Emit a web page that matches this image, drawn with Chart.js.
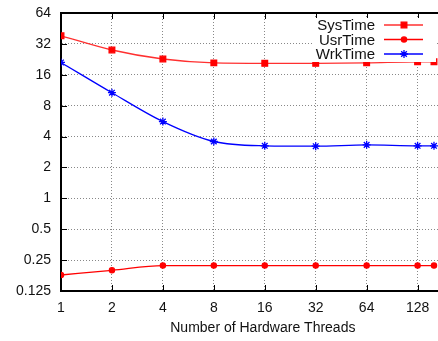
<!DOCTYPE html>
<html>
<head>
<meta charset="utf-8">
<script src="https://cdn.jsdelivr.net/npm/chart.js@4"></script>
<style>
html,body{margin:0;padding:0;background:#fff;overflow:hidden;}
#wrap{width:438px;height:341px;position:relative;overflow:hidden;}
</style>
</head>
<body>
<div id="wrap"><canvas id="c" width="470" height="341"></canvas></div>
<script>
const threads = [1, 2, 4, 8, 16, 32, 64, 128, 160];
const sysTime = [38.4, 27.9, 22.8, 20.9, 20.7, 20.7, 20.9, 21.4, 21.4];
const usrTime = [0.179, 0.199, 0.221, 0.221, 0.221, 0.221, 0.221, 0.221, 0.221];
const wrkTime = [21.1, 10.7, 5.6, 3.58, 3.25, 3.22, 3.32, 3.25, 3.25];
const xTicks = [1, 2, 4, 8, 16, 32, 64, 128];
const yTicks = [0.125, 0.25, 0.5, 1, 2, 4, 8, 16, 32, 64];
const seriesNames = ['SysTime', 'UsrTime', 'WrkTime'];

const pts = arr => threads.map((t, i) => ({x: t, y: arr[i]}));
const FONT = 'Liberation Sans, Arial, sans-serif';

const frame = {
  id: 'frame',
  beforeDatasetsDraw(chart) {
    const {ctx, chartArea: a, scales} = chart;
    ctx.save();
    ctx.strokeStyle = '#000';
    ctx.lineWidth = 1;
    ctx.beginPath();
    xTicks.forEach(v => {
      const px = Math.round(scales.x.getPixelForValue(v)) + 0.5;
      ctx.moveTo(px, a.bottom); ctx.lineTo(px, a.bottom - 6);
      ctx.moveTo(px, a.top); ctx.lineTo(px, a.top + 6);
    });
    yTicks.forEach(v => {
      const py = Math.round(scales.y.getPixelForValue(v)) + 0.5;
      ctx.moveTo(a.left, py); ctx.lineTo(a.left + 6, py);
    });
    ctx.stroke();
    ctx.lineWidth = 2;
    ctx.beginPath();
    ctx.moveTo(a.left - 1, a.top); ctx.lineTo(a.right, a.top);
    ctx.stroke();
    ctx.restore();
  },
  afterDatasetsDraw(chart) {
    const {ctx} = chart;
    ctx.save();
    ctx.fillStyle = '#fff';
    ctx.fillRect(312, 18, 124, 44);
    ctx.font = '15px ' + FONT;
    ctx.textAlign = 'right';
    ctx.textBaseline = 'middle';
    const rows = [25, 39.5, 54];
    chart.data.datasets.forEach((ds, i) => {
      const y = rows[i];
      ctx.fillStyle = '#111';
      ctx.fillText(ds.label, 375, y + 1);
      ctx.strokeStyle = ds.borderColor;
      ctx.lineWidth = 1.3;
      ctx.beginPath();
      ctx.moveTo(384, y); ctx.lineTo(423, y);
      ctx.stroke();
      ctx.fillStyle = ds.pointBackgroundColor;
      ctx.strokeStyle = ds.pointBorderColor;
      ctx.lineWidth = 1.3;
      Chart.helpers.drawPoint(ctx, {
        pointStyle: ds.pointStyle, radius: ds.pointRadius, borderWidth: 1.3, rotation: 0
      }, 404, y);
    });
    ctx.restore();
  }
};

new Chart(document.getElementById('c'), {
  type: 'line',
  data: {
    datasets: [
      {label: seriesNames[0], data: pts(sysTime), borderColor: '#ff3030', backgroundColor: '#ff0000',
       pointBackgroundColor: '#ff0000', pointBorderColor: '#ff0000', pointStyle: 'rect', pointRadius: 4,
       borderWidth: 1.3, cubicInterpolationMode: 'monotone'},
      {label: seriesNames[1], data: pts(usrTime), borderColor: '#ff0000', backgroundColor: '#ff0000',
       pointBackgroundColor: '#ff0000', pointBorderColor: '#ff0000', pointStyle: 'circle', pointRadius: 2.6,
       borderWidth: 1.3, cubicInterpolationMode: 'monotone'},
      {label: seriesNames[2], data: pts(wrkTime), borderColor: '#0000ff', backgroundColor: '#0000ff',
       pointBackgroundColor: '#0000ff', pointBorderColor: '#0000ff', pointStyle: 'star', pointRadius: 4,
       pointBorderWidth: 1.3, borderWidth: 1.3, cubicInterpolationMode: 'monotone'}
    ]
  },
  options: {
    responsive: false,
    animation: false,
    devicePixelRatio: 1,
    layout: {padding: {top: 13, right: 0, left: 0, bottom: 0}},
    plugins: {legend: {display: false}, tooltip: {enabled: false}},
    scales: {
      x: {
        type: 'logarithmic', min: 1, max: 243,
        afterBuildTicks: s => { s.ticks = xTicks.map(v => ({value: v})); },
        afterFit: s => { s.height = 50; },
        ticks: {callback: v => String(v), color: '#111', font: {family: FONT, size: 14}, padding: 9, maxRotation: 0, autoSkip: false},
        grid: {color: '#888', lineWidth: 1, drawTicks: false},
        border: {color: '#000', width: 2, dash: [1, 2]},
        title: {display: true, text: 'Number of Hardware Threads', color: '#111', font: {family: FONT, size: 14}, padding: {top: 0, bottom: 4}}
      },
      y: {
        type: 'logarithmic', min: 0.125, max: 64,
        afterBuildTicks: s => { s.ticks = yTicks.map(v => ({value: v})); },
        afterFit: s => { s.width = 61; s.paddingTop = 0; s.paddingBottom = 0; },
        ticks: {callback: v => String(v), color: '#111', font: {family: FONT, size: 14}, padding: 10, autoSkip: false},
        grid: {color: '#888', lineWidth: 1, drawTicks: false},
        border: {color: '#000', width: 2, dash: [1, 2]}
      }
    }
  },
  plugins: [frame]
});
</script>
</body>
</html>
